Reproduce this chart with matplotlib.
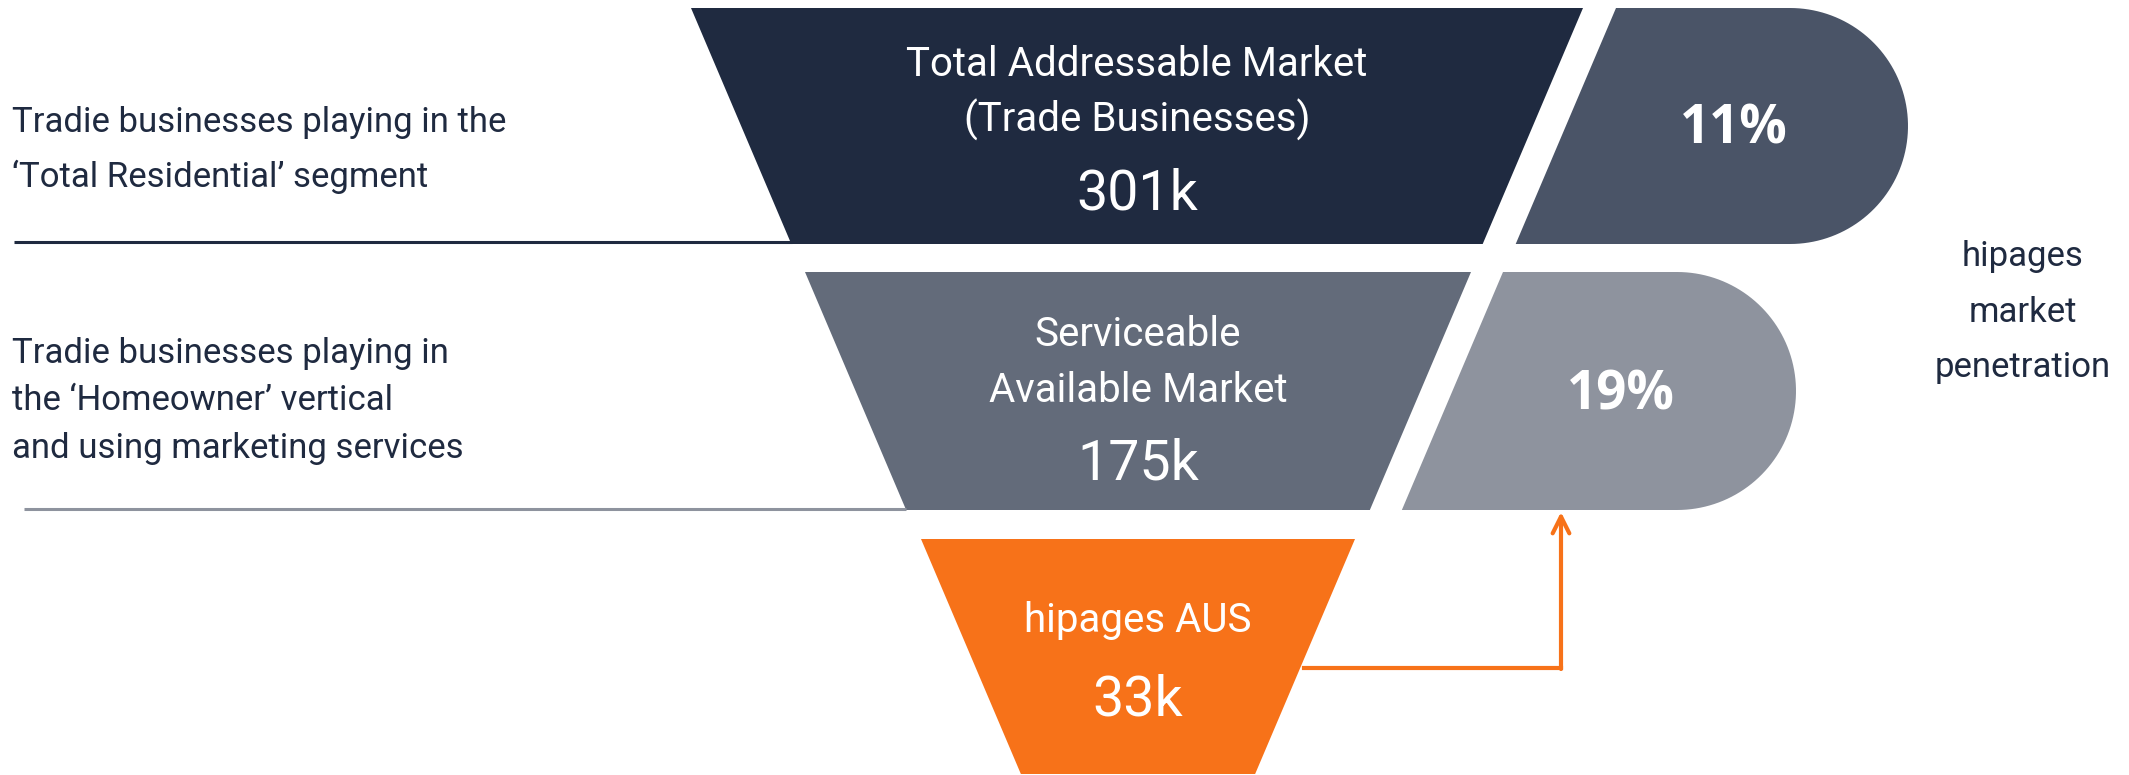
import numpy as np
import matplotlib.pyplot as plt
from matplotlib.patches import Polygon

# data
stage_names = ["Total Addressable Market\n(Trade Businesses)",
               "Serviceable\nAvailable Market",
               "hipages AUS"]
stage_counts = [301, 175, 33]          # thousands of businesses
penetration = [11, 19]                 # % market penetration
segment_notes = ["Tradie businesses playing in the\n\u2018Total Residential\u2019 segment",
                 "Tradie businesses playing in\nthe \u2018Homeowner\u2019 vertical\nand using marketing services"]
side_label = "hipages\nmarket\npenetration"

navy = "#1F2A40"
funnel_colors = [navy, "#636B7A", "#F77219"]
pen_colors = ["#4A5467", "#8E939E"]
line_colors = [navy, "#8E939E"]

fig = plt.figure(figsize=(21.29, 7.75), dpi=100)
ax = fig.add_axes([0, 0, 1, 1])
ax.set_xlim(0, 2129)
ax.set_ylim(775, 0)
ax.axis("off")

# layout (pixels)
tops = [8, 272, 539]
bots = [244, 510, 774]
top_x = [(691, 1583), (805, 1471), (921, 1355)]
slope = 0.425
font = dict(family="Roboto", fontweight="normal")

for i, (name, cnt) in enumerate(zip(stage_names, stage_counts)):
    t, b = tops[i], bots[i]
    xl, xr = top_x[i]
    d = (b - t) * slope
    ax.add_patch(Polygon([(xl, t), (xr, t), (xr - d, b), (xl + d, b)],
                         closed=True, color=funnel_colors[i], lw=0))
    cx = (xl + xr) / 2
    lines = name.split("\n")
    off = 6 if i == 1 else 0
    if len(lines) == 2:
        ax.text(cx, t + 57 + off, lines[0], ha="center", va="center",
                color="white", fontsize=29, **font)
        ax.text(cx, t + 112 + off, lines[1], ha="center", va="center",
                color="white", fontsize=29, **font)
        ax.text(cx, t + 186 + off, f"{cnt}k", ha="center", va="center",
                color="white", fontsize=40, **font)
    else:
        ax.text(cx, t + 82, lines[0], ha="center", va="center",
                color="white", fontsize=29, **font)
        ax.text(cx, t + 161, f"{cnt}k", ha="center", va="center",
                color="white", fontsize=40, **font)

# penetration "D" shapes
pen_left = [1616, 1503]
pen_flat = [1790, 1677]
for i, p in enumerate(penetration):
    t, b = tops[i], bots[i]
    r = (b - t) / 2
    cy = (t + b) / 2
    d = (b - t) * slope
    ang = np.linspace(-np.pi / 2, np.pi / 2, 80)
    arc = np.column_stack([pen_flat[i] + r * np.cos(ang), cy + r * np.sin(ang)])
    pts = [(pen_left[i], t)] + [tuple(a) for a in arc] + [(pen_left[i] - d, b)]
    ax.add_patch(Polygon(pts, closed=True, color=pen_colors[i], lw=0))
    ax.text(pen_flat[i] - 56, cy + 4, f"{p}%", ha="center", va="center",
            color="white", fontsize=38, family="Open Sans", fontweight="bold")

# left notes and rule lines
note_y = [150, 401]
note_ls = [1.75, 1.55]
line_y = [242, 509]
line_x = [(14, 792), (24, 906)]
for i, note in enumerate(segment_notes):
    ax.text(12, note_y[i], note, ha="left", va="center", color=navy,
            fontsize=25, linespacing=note_ls[i], **font)
    ax.plot(line_x[i], [line_y[i], line_y[i]], color=line_colors[i], lw=2.2,
            solid_capstyle="butt")

ax.text(2023, 312, side_label, ha="center", va="center", color=navy,
        fontsize=25, linespacing=1.85, **font)

# orange connector arrow
ax.plot([1304, 1561], [668, 668], color="#F77219", lw=3)
ax.annotate("", xy=(1561, 512), xytext=(1561, 669),
            arrowprops=dict(arrowstyle="->", color="#F77219", lw=3,
                            mutation_scale=30, shrinkA=0, shrinkB=0))

fig.savefig("out.png", dpi=100)
